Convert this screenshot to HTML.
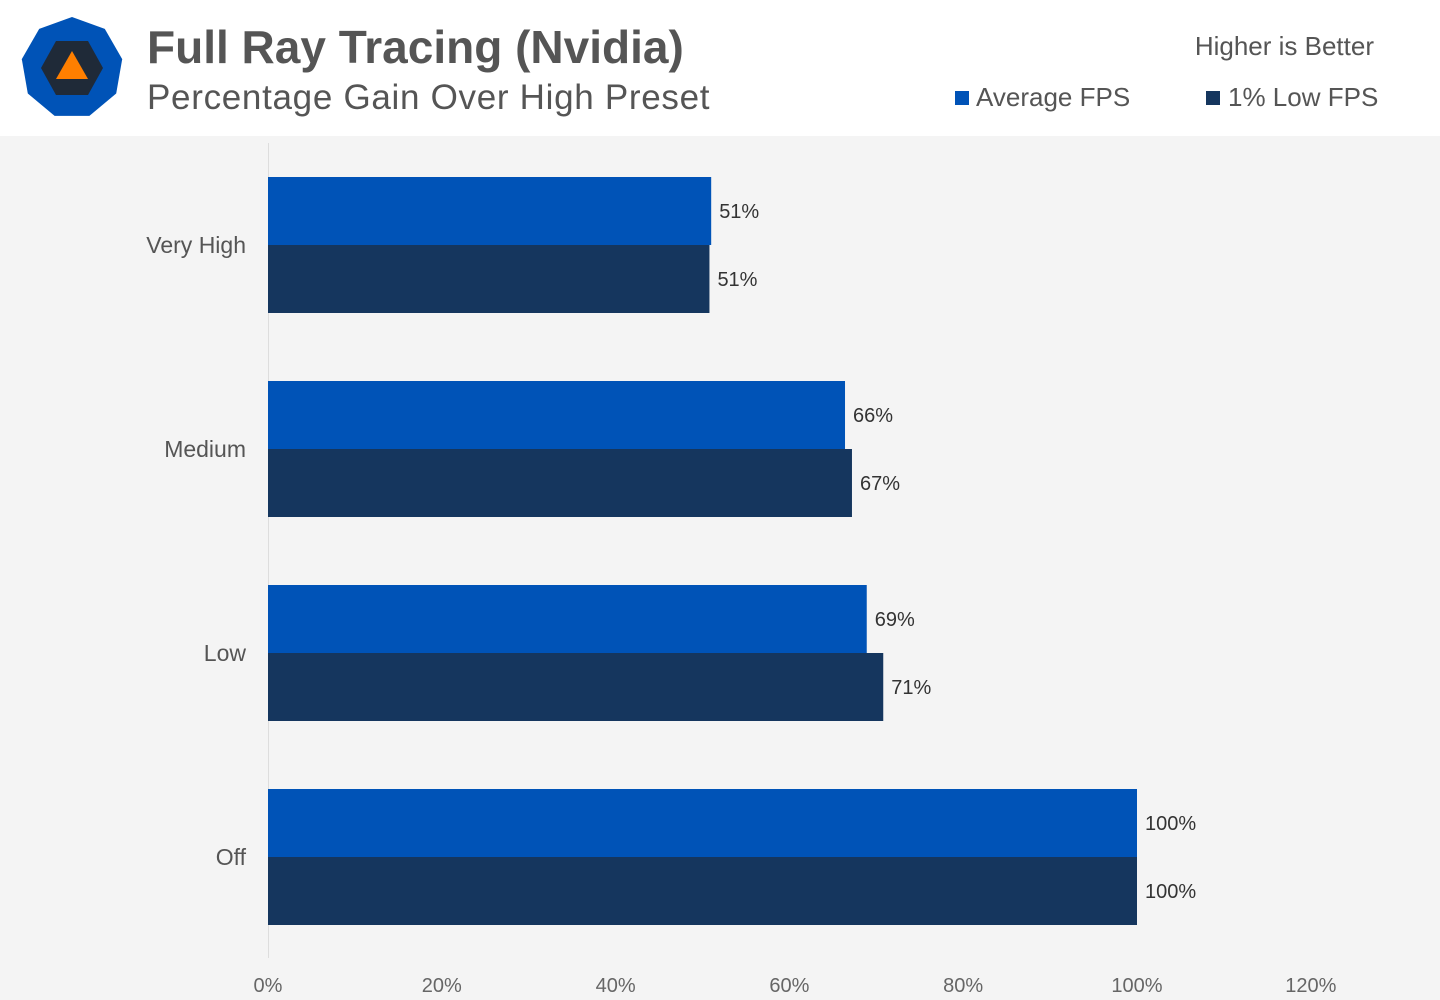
<!DOCTYPE html>
<html><head><meta charset="utf-8"><style>
html,body{margin:0;padding:0;width:1440px;height:1000px;overflow:hidden;background:#f4f4f4;font-family:"Liberation Sans",sans-serif}
svg{display:block}
</style></head><body>
<svg id="chart" width="1440" height="1000" xmlns="http://www.w3.org/2000/svg">
<rect x="0" y="0" width="1440" height="136" fill="#ffffff"/>
<g>
<polygon id="nona" fill="#0053b7"/>
<polygon points="56,41 88,41 103,68 88,95 56,95 41,68" fill="#1f2a38"/>
<polygon points="72,51 88,79 56,79" fill="#ff7f00"/>
</g>
<text x="147" y="63" font-size="46" font-weight="bold" fill="#555">Full Ray Tracing (Nvidia)</text>
<text x="147" y="109" font-size="35" fill="#555" letter-spacing="0.7">Percentage Gain Over High Preset</text>
<text x="1374" y="55" font-size="26" fill="#555" text-anchor="end">Higher is Better</text>
<g>
<rect x="955" y="91" width="14" height="14" fill="#0053b7"/>
<text x="976" y="106" font-size="26" fill="#555">Average FPS</text>
<rect x="1206" y="91" width="14" height="14" fill="#15365e"/>
<text x="1228" y="106" font-size="26" fill="#555">1% Low FPS</text>
</g>
<line x1="268.5" y1="143" x2="268.5" y2="958" stroke="#ddd" stroke-width="1"/>
<g id="bars"></g>
</svg>
<script>
const categories = ["Very High","Medium","Low","Off"];
const avgValues = [51.0, 66.4, 68.9, 100];
const lowValues = [50.8, 67.2, 70.8, 100];
const xTicks = [0,20,40,60,80,100,120];
const NS="http://www.w3.org/2000/svg";
const x = v => 268 + v*8.69;
const yCat = i => 177 + i*204;
const g = document.getElementById('bars');
let pts=[];for(let k=0;k<9;k++){const a=-Math.PI/2+k*2*Math.PI/9;pts.push((72+51*Math.cos(a)).toFixed(1)+','+(68+51*Math.sin(a)).toFixed(1));}
document.getElementById('nona').setAttribute('points',pts.join(' '));
function mk(tag,attrs,txt){const e=document.createElementNS(NS,tag);for(const k in attrs)e.setAttribute(k,attrs[k]);if(txt!==undefined)e.textContent=txt;g.appendChild(e);return e;}
categories.forEach((c,i)=>{
  const y0=yCat(i);
  const l=mk('text',{x:246,y:y0+76,'font-size':23,fill:'#555','text-anchor':'end'},c);
  
  
  [[avgValues[i],'#0053b7',0,'bar-average'],[lowValues[i],'#15365e',68,'bar-low']].forEach(([v,col,off,nm])=>{
    const r=mk('rect',{x:268,y:y0+off,width:x(v)-268,height:68,fill:col});
    
    
    const t=mk('text',{x:x(v)+8,y:y0+off+41,'font-size':20,fill:'#333'},Math.round(v)+'%');
    
    
  });
});
xTicks.forEach(v=>{
  const t=mk('text',{x:x(v),y:992,'font-size':20,fill:'#666','text-anchor':'middle'},v+'%');
  
  
});
</script>
</body></html>
